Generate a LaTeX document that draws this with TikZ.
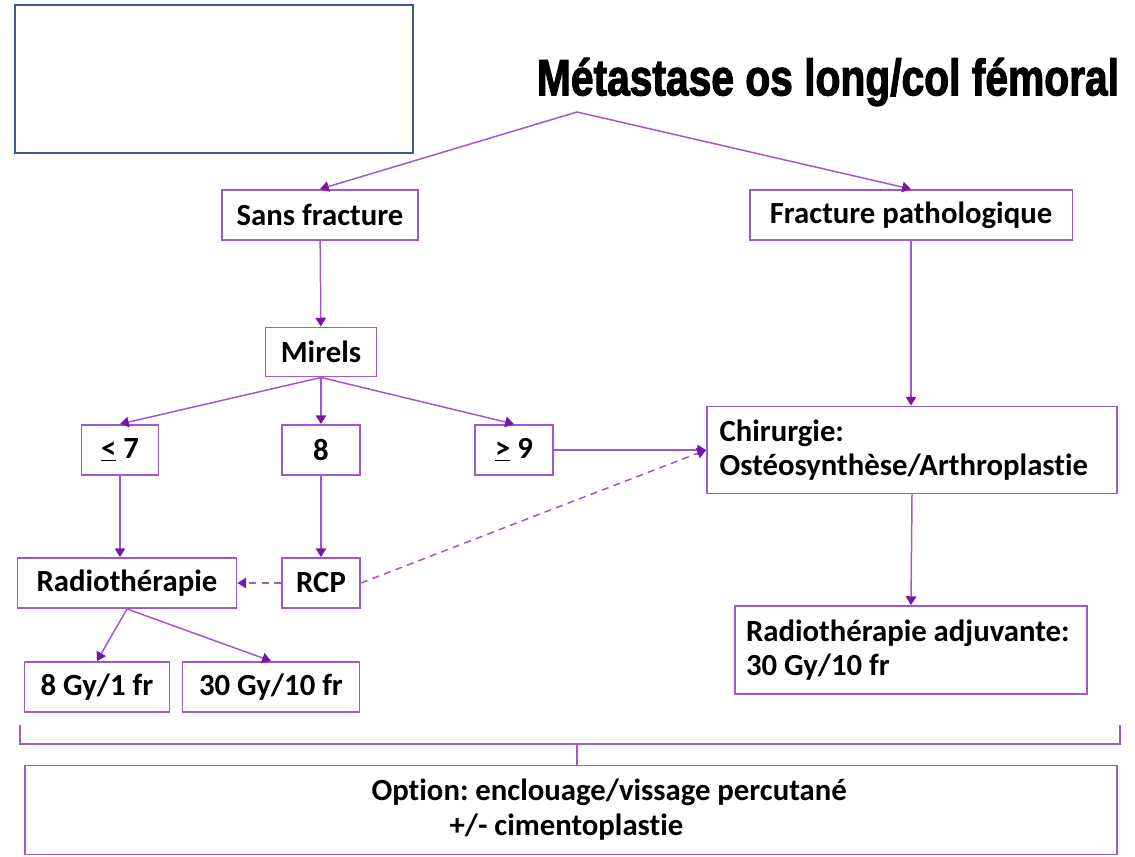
\documentclass[tikz,border=0pt]{standalone}
\usepackage{fontspec}
\setmainfont{Carlito}[Ligatures=NoCommon]
\newfontfamily\titrefont{Liberation Sans}[BoldFeatures={FakeBold=2.5}]
\usetikzlibrary{arrows.meta}
\definecolor{violetclair}{RGB}{165,85,205}
\definecolor{violetfonce}{RGB}{115,25,165}
\definecolor{bleucadre}{RGB}{60,88,150}
\frenchspacing
\begin{document}
\begin{tikzpicture}[x=0.02cm, y=-0.02cm,
    boite/.style={draw=violetclair, line width=1.1pt, inner sep=0pt,
        font=\bfseries\fontsize{17.5}{19}\selectfont, minimum height=1cm},
    fleche/.style={draw=violetclair, line width=0.85pt,
        -{Triangle[length=5pt, width=6pt, color=violetfonce]}},
    tirets/.style={fleche, dashed, dash pattern=on 4pt off 3pt}]
    \useasboundingbox (0, 0) rectangle (1135, 856);

    % cadre vide et titre
    \node[draw=bleucadre, line width=1.2pt, minimum width=7.96cm, minimum height=2.96cm] (cadre) at (214, 79) {};
    \node[font=\titrefont\bfseries\fontsize{29}{30}\selectfont] (titre) at (828, 82) {\scalebox{0.8}[1]{Métastase os long/col fémoral}};
    \coordinate (depart) at (577, 112);

    % boites
    \node[boite, minimum width=3.92cm] (sansfx) at (320, 215) {Sans fracture};
    \node[boite, minimum width=6.46cm] (fxpath) at (911, 215) {Fracture pathologique};
    \node[boite, minimum width=2.22cm, minimum height=0.98cm] (mirels) at (321, 352) {Mirels};
    \node[boite, minimum width=1.54cm] (inf7) at (120, 450) {\underline{<} 7};
    \node[boite, minimum width=1.56cm] (huit) at (321, 450) {8};
    \node[boite, minimum width=1.56cm] (sup9) at (514, 450) {\underline{>} 9};
    \node[boite, minimum width=8.2cm, minimum height=1.74cm, text width=7.7cm, align=flush left] (chir) at (912, 450)
        {Chirurgie:\\Ostéosynthèse/Arthroplastie};
    \node[boite, minimum width=4.38cm] (radio) at (127, 583) {Radiothérapie};
    \node[boite, minimum width=1.56cm] (rcp) at (321, 583) {RCP};
    \node[boite, minimum width=2.9cm] (gy8) at (97, 687) {8 Gy/1 fr};
    \node[boite, minimum width=3.54cm] (gy30) at (271, 687) {30 Gy/10 fr};
    \node[boite, minimum width=7.04cm, minimum height=1.76cm, text width=6.6cm, align=flush left] (radadj) at (911, 650)
        {Radiothérapie adjuvante:\\30 Gy/10 fr};
    \node[boite, minimum width=21.86cm, minimum height=1.78cm, text width=21.86cm, align=flush left] (option) at (571, 810)
        {\hspace*{6.94cm}Option: enclouage/vissage percutané\\[1pt]\hspace*{8.5cm}+/- cimentoplastie};

    % fleches
    \draw[fleche] (depart) -- (sansfx.north);
    \draw[fleche] (depart) -- (fxpath.north);
    \draw[fleche] (sansfx) -- (mirels);
    \draw[fleche] (mirels.south) -- (inf7.north);
    \draw[fleche] (mirels) -- (huit);
    \draw[fleche] (mirels.south) -- (sup9.north);
    \draw[fleche] (inf7.south) -- (inf7.south |- radio.north);
    \draw[fleche] (huit) -- (rcp);
    \draw[fleche] (sup9) -- (chir.west);
    \draw[tirets] (rcp.east) -- (chir.west);
    \draw[tirets] (rcp) -- (radio);
    \draw[fleche] (radio.south) -- (gy8.north);
    \draw[fleche] (radio.south) -- (gy30.north);
    \draw[fleche] (fxpath) -- (fxpath |- chir.north);
    \draw[fleche] (chir.south) -- (radadj.north);

    % accolade du bas
    \coordinate (accg) at (20, 725);
    \coordinate (accd) at (1120, 725);
    \coordinate (accm) at (577, 744);
    \draw[draw=violetclair, line width=1.1pt] (accg) -- (accg |- accm) -- (accd |- accm) -- (accd);
    \draw[draw=violetclair, line width=0.85pt] (accm) -- (accm |- option.north);
\end{tikzpicture}
\end{document}
